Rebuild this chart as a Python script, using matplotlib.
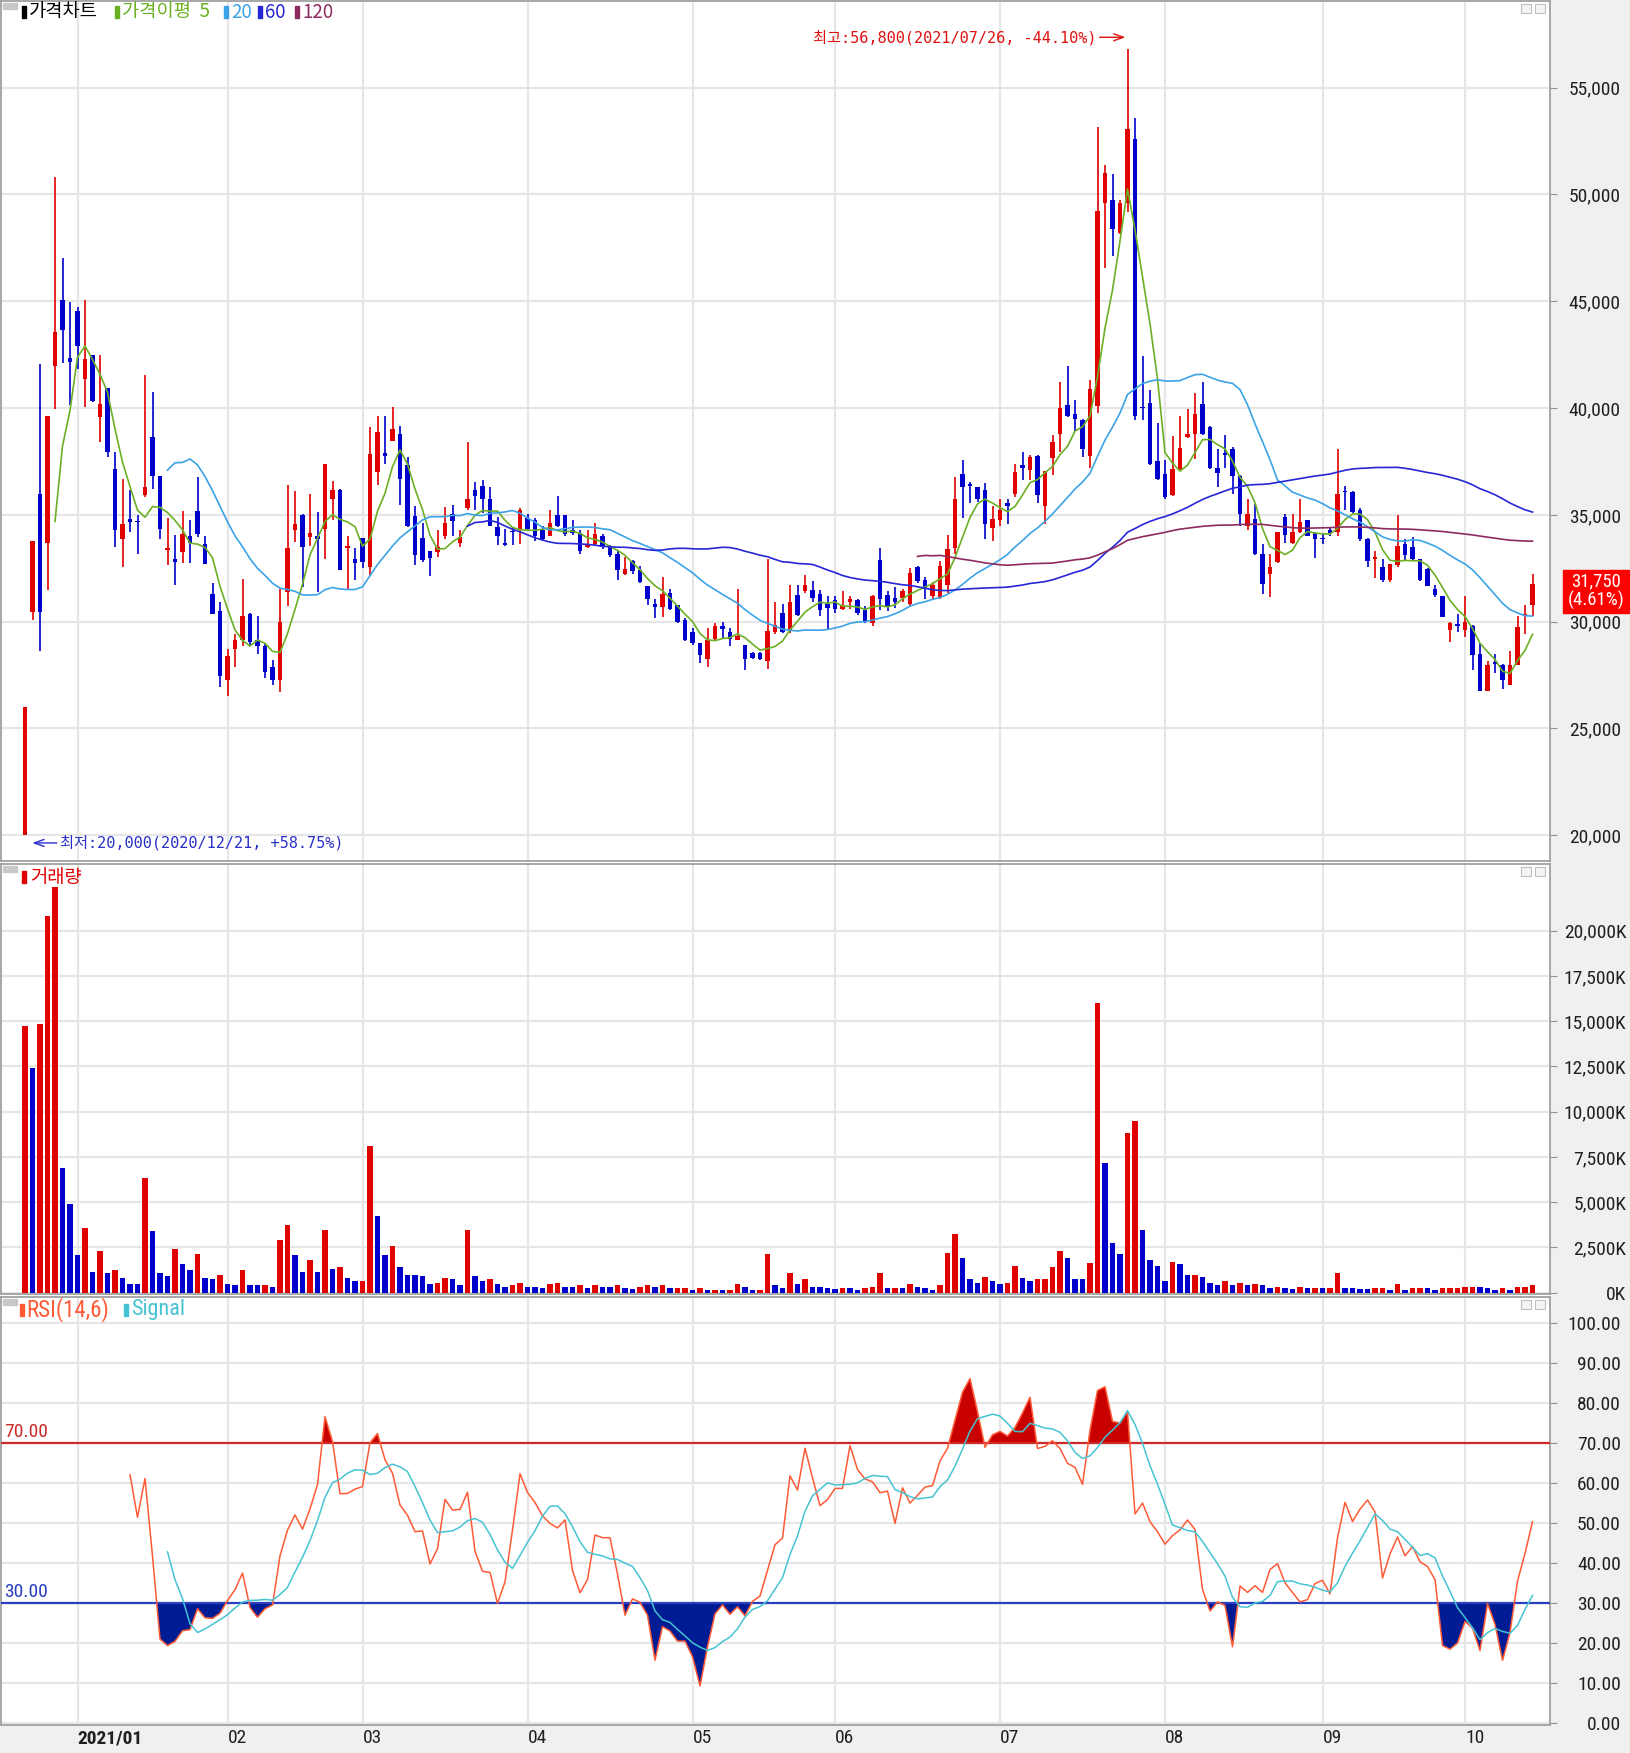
import numpy as np
import pandas as pd
import matplotlib
matplotlib.use("Agg")
import matplotlib.pyplot as plt
from matplotlib import font_manager
from matplotlib.patches import Rectangle

# daily candles, KRW (2020/12/21 .. 2021/10/18)
opens = [
    20000, 30450, 36000, 33700, 41950, 45050, 42350, 44550, 41350, 42500,
    39600, 40950, 37150, 33850, 34800, 34700, 35950, 38650, 36800, 33350,
    32950, 33250, 34000, 35200, 33650, 31300, 30500, 27250, 28700, 29150,
    30350, 29150, 28850, 27900, 27250, 31400, 34300, 35000, 33950, 34000,
    34350, 35750, 36150, 33450, 32950, 33900, 32550, 37000, 37900, 38450,
    38800, 37350, 34950, 33900, 33300, 33250, 34000, 35050, 33700, 35300,
    36150, 36350, 35750, 34450, 33650, 34250, 34300, 34850, 34750, 34300,
    34000, 35000, 35000, 34300, 34150, 33500, 33650, 34000, 33500, 33150,
    32250, 32850, 32400, 31650, 30850, 30700, 31350, 30800, 30100, 29500,
    29000, 28250, 29200, 29800, 29500, 29150, 28900, 28550, 28550, 28150,
    29500, 30400, 29550, 31250, 31450, 31500, 31300, 30850, 31000, 30600,
    30900, 31000, 30550, 29950, 32900, 31250, 31100, 31100, 30850, 32550,
    31950, 31200, 31100, 31700, 33450, 36900, 36450, 36300, 36150, 34400,
    34750, 35550, 36000, 37350, 37100, 37750, 35400, 37650, 38800, 40150,
    39700, 39450, 37750, 40100, 49600, 49750, 48200, 49600, 52600, 40050,
    40250, 37500, 36900, 35950, 37150, 38650, 38800, 40200, 39100, 37200,
    37900, 38100, 36800, 34500, 34800, 33150, 32250, 32800, 34900, 33700,
    34200, 34750, 34150, 33900, 34300, 34200, 36100, 36050, 35250, 33850,
    32950, 32550, 31950, 32650, 33650, 33500, 32950, 32450, 31550, 31200,
    29600, 29900, 29600, 29800, 28500, 26750, 28100, 27950, 27050, 27950,
    30250, 30800]
highs = [
    26000, 33800, 42050, 39650, 50800, 47050, 44950, 44750, 45050, 42500,
    42500, 40950, 37950, 36700, 36150, 35000, 41550, 40750, 36800, 34850,
    34050, 35200, 34750, 36750, 34000, 31800, 30900, 28700, 29400, 32000,
    30400, 30250, 28950, 28200, 31550, 36400, 36100, 35050, 36000, 35150,
    37400, 36600, 36200, 34000, 33450, 33900, 39100, 39650, 39650, 40050,
    39150, 37700, 35400, 34600, 33300, 34300, 35350, 35450, 34300, 38400,
    36550, 36650, 36300, 34900, 34350, 34450, 35300, 35050, 34850, 34500,
    35250, 35900, 35000, 34750, 34300, 34300, 34600, 34100, 33600, 33300,
    33050, 32900, 32600, 31650, 31050, 32100, 31550, 30800, 30150, 29700,
    29000, 29700, 29950, 30000, 29700, 31550, 28900, 28600, 28600, 32950,
    30900, 30850, 31700, 31700, 32200, 31900, 31500, 31200, 31200, 31450,
    31200, 31050, 30750, 31250, 33450, 31450, 31600, 31550, 32500, 32600,
    32100, 31850, 32850, 34050, 36750, 37550, 36550, 36300, 36500, 35400,
    35750, 35750, 37400, 37950, 37800, 37800, 37050, 38750, 41200, 41950,
    40400, 39500, 41300, 53150, 51400, 50950, 49750, 56800, 53600, 42450,
    40850, 39300, 37550, 38700, 39650, 39950, 40700, 41200, 39150, 38100,
    38750, 38200, 36850, 35750, 35500, 33650, 33150, 34200, 35050, 35050,
    35750, 34750, 34200, 34150, 34450, 38100, 36350, 36100, 35300, 33900,
    33300, 32950, 32700, 35000, 33850, 33950, 32950, 32500, 31700, 31200,
    30000, 30350, 31200, 29850, 29000, 28150, 28500, 28000, 28650, 30250,
    30800, 32250]
lows = [
    20000, 30100, 28650, 31500, 39950, 42100, 40150, 41850, 40050, 40300,
    38400, 37700, 33500, 32550, 34200, 33150, 35850, 36200, 33850, 32650,
    31700, 32750, 32750, 33950, 32700, 30350, 26950, 26500, 27900, 28850,
    28850, 28500, 27350, 27050, 26700, 30750, 33750, 31600, 33550, 31400,
    32950, 34750, 32400, 31500, 31950, 32500, 32150, 36400, 37400, 38450,
    35450, 34450, 32650, 32800, 32150, 33050, 33850, 34000, 33500, 35250,
    35250, 35100, 34500, 33600, 33550, 33600, 33650, 34300, 33800, 33800,
    34000, 34450, 34000, 34050, 33150, 33450, 33600, 33400, 33050, 31950,
    32200, 32250, 31800, 30800, 30150, 30200, 30550, 29950, 29100, 28900,
    28050, 27900, 29150, 29250, 28850, 29150, 27750, 28250, 28200, 27800,
    29400, 29450, 29450, 30250, 31350, 30900, 30250, 29600, 30400, 30550,
    30600, 30300, 29950, 29800, 30550, 30500, 30650, 30900, 30750, 31800,
    31050, 31050, 31050, 31350, 33150, 34850, 35550, 35600, 33850, 33800,
    34500, 34550, 35850, 36650, 36650, 35550, 34550, 36850, 37950, 39600,
    38950, 37700, 37200, 39750, 46550, 47100, 48150, 49200, 39450, 39450,
    37350, 36650, 35750, 35900, 37050, 38600, 37600, 38750, 37150, 36300,
    37200, 36000, 34500, 34300, 33100, 31300, 31150, 32750, 33700, 33650,
    34150, 34000, 33000, 33650, 34000, 34000, 35250, 35100, 33800, 32550,
    32050, 31850, 31850, 32550, 32900, 32900, 31900, 31650, 31150, 30200,
    29050, 29500, 29300, 27750, 26750, 26750, 27600, 26850, 27050, 27950,
    29400, 30250]
closes = [
    26000, 33800, 30450, 39650, 43550, 43650, 42150, 42900, 42300, 40350,
    40200, 37950, 34300, 34550, 34650, 34650, 36300, 36800, 34350, 33450,
    32800, 34100, 33700, 34100, 32700, 30350, 27450, 28400, 29150, 30250,
    29050, 28850, 27650, 27250, 30000, 33450, 34550, 33500, 34150, 33850,
    37400, 36150, 32400, 33550, 32750, 32800, 37850, 38900, 37750, 39000,
    36700, 34500, 33100, 32900, 33000, 33500, 34600, 34700, 33950, 35750,
    35900, 35750, 34500, 34000, 33600, 34200, 35250, 34350, 34000, 33850,
    34600, 34500, 34100, 34150, 33300, 33600, 34100, 33500, 33100, 32400,
    32450, 32350, 31850, 31050, 30700, 31300, 30600, 30000, 29150, 29000,
    28450, 29150, 29800, 29650, 29200, 29350, 28250, 28300, 28250, 29550,
    29850, 29500, 30900, 30300, 31700, 31100, 30550, 30650, 30600, 30750,
    31050, 30400, 30050, 31200, 31050, 30750, 30900, 31450, 32300, 31900,
    31550, 31700, 32600, 33400, 35750, 36300, 36350, 35750, 34550, 34800,
    35250, 35400, 37000, 37200, 37700, 35950, 37050, 38400, 40000, 39650,
    39500, 38100, 40900, 49250, 51000, 48400, 49600, 53050, 39650, 40000,
    37400, 36700, 35850, 37150, 38150, 38800, 39700, 38800, 37200, 36950,
    37800, 36800, 35050, 35050, 33150, 31750, 32550, 34200, 34050, 34200,
    34650, 34000, 33850, 33850, 34150, 36000, 36050, 35150, 33850, 32850,
    33050, 31950, 32700, 33550, 33100, 32950, 31950, 31650, 31250, 30200,
    29950, 29800, 30000, 28450, 26750, 27950, 28000, 27250, 27950, 29750,
    30350, 31750]
# volume, thousand shares
volumes = [
    14720, 12410, 14820, 20820, 22390, 6890, 4910, 2080, 3560, 1150,
    2320, 1080, 1250, 820, 480, 470, 6320, 3390, 1080, 910,
    2410, 1580, 1250, 2150, 820, 740, 980, 480, 410, 1250,
    410, 400, 410, 320, 2910, 3720, 2080, 1150, 1820, 1150,
    3480, 1320, 1410, 820, 650, 660, 8080, 4250, 2080, 2580,
    1410, 980, 970, 910, 480, 560, 820, 740, 410, 3480,
    910, 650, 740, 480, 320, 410, 560, 320, 310, 240,
    480, 560, 320, 310, 410, 240, 410, 320, 310, 410,
    240, 230, 320, 410, 320, 410, 240, 250, 260, 150,
    240, 150, 160, 150, 160, 480, 320, 150, 160, 2150,
    410, 240, 1080, 480, 740, 320, 310, 240, 230, 250,
    240, 150, 240, 320, 1080, 240, 250, 240, 480, 320,
    240, 150, 410, 2220, 3220, 1910, 740, 560, 890, 650,
    480, 560, 1480, 820, 650, 740, 750, 1410, 2320, 1910,
    740, 730, 1650, 15980, 7150, 2750, 2150, 8820, 9470, 3480,
    1820, 1480, 650, 1700, 1580, 980, 990, 890, 560, 410,
    650, 410, 560, 410, 480, 400, 240, 320, 240, 230,
    320, 240, 250, 240, 250, 1080, 240, 235, 230, 225,
    240, 245, 150, 480, 150, 240, 250, 240, 150, 240,
    250, 255, 320, 325, 310, 240, 150, 240, 150, 320,
    330, 410]

holidays = ["2020-12-25", "2020-12-31", "2021-01-01", "2021-02-11", "2021-02-12",
            "2021-03-01", "2021-05-05", "2021-05-19", "2021-08-16", "2021-09-20",
            "2021-09-21", "2021-09-22", "2021-10-04", "2021-10-11"]
dates = pd.bdate_range("2020-12-21", "2021-10-18", freq="C", holidays=holidays)

price_ticks = [20000, 25000, 30000, 35000, 40000, 45000, 50000, 55000]
vol_ticks = [0, 2500, 5000, 7500, 10000, 12500, 15000, 17500, 20000]
rsi_ticks = [0, 10, 20, 30, 40, 50, 60, 70, 80, 90, 100]

RED = "#E00000"
BLUE = "#0000CC"
GRID = "#E6E6E6"
EDGE = "#A0A0A0"

# a narrow face for numbers if one is installed, else DejaVu Sans
installed = {f.name for f in font_manager.fontManager.ttflist}
NARROW, LBL = "DejaVu Sans", 11.5
for name in ("Liberation Sans Narrow", "Roboto Condensed", "Open Sans Condensed"):
    if name in installed:
        NARROW, LBL = name, 14
        break
KR = ["Noto Sans CJK KR", "DejaVu Sans"]
MONO_KR = ["DejaVu Sans Mono", "Noto Sans CJK KR"]

o = np.array(opens, float)
h = np.array(highs, float)
l = np.array(lows, float)
c = np.array(closes, float)
v = np.array(volumes, float)
n = len(c)
x = np.arange(n)

s = pd.Series(c)
ma = {k: s.rolling(k).mean() for k in (5, 20, 60, 120)}
d = s.diff()
gain = d.clip(lower=0).rolling(14).sum()
loss = (-d.clip(upper=0)).rolling(14).sum()
rsi = (100 * gain / (gain + loss)).to_numpy()
signal = pd.Series(rsi).rolling(6).mean().to_numpy()

month_pos = [i for i in range(1, n) if dates[i].month != dates[i - 1].month]
month_lbl = [dates[i].strftime("%Y/%m") if dates[i].month == 1 else dates[i].strftime("%m")
             for i in month_pos]

W, H = 1630, 1753
fig = plt.figure(figsize=(W / 100, H / 100), dpi=100)
fig.patches.append(Rectangle((1550 / W, 0), 80 / W, 1, transform=fig.transFigure,
                             color="#F0F0F0", zorder=-5))
fig.patches.append(Rectangle((0, 0), 1, 28 / H, transform=fig.transFigure,
                             color="#F0F0F0", zorder=-5))


def frame(x0, y0, x1, y1):
    return fig.add_axes([x0 / W, 1 - y1 / H, (x1 - x0) / W, (y1 - y0) / H])


def px_rect(x0, y0, w, hh, **kw):
    fig.patches.append(Rectangle((x0 / W, 1 - (y0 + hh) / H), w / W, hh / H,
                                 transform=fig.transFigure, **kw))


def px_text(x0, y0, txt, **kw):
    fig.text(x0 / W, 1 - y0 / H, txt, va="center", **kw)


ax_p = frame(1, 1, 1550, 861)
ax_v = frame(1, 864, 1550, 1294)
ax_r = frame(1, 1297, 1550, 1725)


def style(ax, ticks, labels, ylim, pad):
    ax.set_xlim(-3.2, 203.33)
    ax.set_ylim(*ylim)
    ax.set_xticks(month_pos)
    ax.set_yticks(ticks, labels)
    ax.yaxis.tick_right()
    ax.tick_params(axis="y", length=5, color="#909090", pad=pad, labelsize=LBL)
    ax.tick_params(axis="x", length=0)
    plt.setp(ax.get_yticklabels(), ha="right", family=NARROW, color="#202020")
    ax.grid(True, color=GRID, lw=1.6)
    ax.set_axisbelow(True)
    for sp in ax.spines.values():
        sp.set_color(EDGE)
        sp.set_linewidth(1.3)


style(ax_p, price_ticks, [f"{t:,}" for t in price_ticks], (18795, 59059), 46)
style(ax_v, vol_ticks, [f"{t:,}K" for t in vol_ticks], (-72, 23687), 50)
style(ax_r, rsi_ticks, [f"{t:.2f}" for t in rsi_ticks], (-0.4, 106.6), 46)
ax_p.set_xticklabels([])
ax_v.set_xticklabels([])
ax_r.set_xticklabels(month_lbl)
ax_r.tick_params(axis="x", pad=3, labelsize=LBL)
plt.setp(ax_r.get_xticklabels(), ha="left", family=NARROW, color="#202020")
ax_r.get_xticklabels()[0].set_fontweight("bold")

# candles
up = c >= o
cc = np.where(up, RED, BLUE)
ax_p.vlines(x, l, h, colors=cc, lw=1.2, zorder=2)
ax_p.bar(x, np.maximum(np.abs(c - o), 60), bottom=np.minimum(o, c), width=0.64,
         color=cc, linewidth=0, zorder=3)
ax_p.plot(x, ma[5], color="#6BB024", lw=1.2, zorder=4)
ax_p.plot(x, ma[20], color="#3BA3E6", lw=1.2, zorder=4)
ax_p.plot(x, ma[60], color="#2626D6", lw=1.2, zorder=4)
ax_p.plot(x, ma[120], color="#8E2B5E", lw=1.2, zorder=4)

hi = int(np.argmax(h))
lo = int(np.argmin(l))
lvl = h[hi] + 560
ax_p.annotate("", xy=(hi + 0.1, lvl), xytext=(hi - 4.1, lvl),
              arrowprops=dict(arrowstyle="->,head_length=0.7,head_width=0.25",
                              color="#E01010", lw=1))
ax_p.text(hi - 4.2, lvl, "최고:56,800(2021/07/26, -44.10%)", color="#E01010",
          ha="right", va="center", fontsize=11, family=MONO_KR)
lvl = l[lo] - 360
ax_p.annotate("", xy=(lo + 0.6, lvl), xytext=(lo + 4.6, lvl),
              arrowprops=dict(arrowstyle="->,head_length=0.7,head_width=0.25",
                              color="#2830C8", lw=1))
ax_p.text(lo + 4.7, lvl, "최저:20,000(2020/12/21, +58.75%)", color="#2830C8",
          ha="left", va="center", fontsize=11, family=MONO_KR)

# last price tag
tag_y = 87.7 + (55000 - c[-1]) / 46.82
px_rect(1563, tag_y - 14, 66, 43, color="#FF0000", zorder=5)
chg = (c[-1] / c[-2] - 1) * 100
px_text(1596, tag_y - 3, f"{int(c[-1]):,}", color="white", ha="center",
        fontsize=LBL - 0.5, family=NARROW, zorder=6)
px_text(1596, tag_y + 16, f"({chg:.2f}%)", color="white", ha="center",
        fontsize=LBL - 0.5, family=NARROW, zorder=6)

# volume
vup = np.concatenate([[True], v[1:] >= v[:-1]])
ax_v.bar(x, v, width=0.7, color=np.where(vup, RED, BLUE), linewidth=0, zorder=3)

# RSI
ax_r.fill_between(x, rsi, 70, where=rsi >= 70, interpolate=True, color="#C80000",
                  linewidth=0, zorder=2)
ax_r.fill_between(x, rsi, 30, where=rsi <= 30, interpolate=True, color="#001C94",
                  linewidth=0, zorder=2)
ax_r.axhline(70, color="#CC2A2A", lw=1.6, zorder=3)
ax_r.axhline(30, color="#2A3EC0", lw=1.6, zorder=3)
ax_r.plot(x, rsi, color="#FF5A36", lw=1.1, zorder=4)
ax_r.plot(x, signal, color="#46C3D2", lw=1.1, zorder=4)
ax_r.text(0.002, 70.5, "70.00", transform=ax_r.get_yaxis_transform(), color="#CC2A2A",
          fontsize=LBL, family=NARROW, va="bottom")
ax_r.text(0.002, 30.5, "30.00", transform=ax_r.get_yaxis_transform(), color="#2A3EC0",
          fontsize=LBL, family=NARROW, va="bottom")

# panel legends
px_rect(22, 6, 4, 12, color="black", zorder=5)
px_text(29, 12, "가격차트", color="black", fontsize=13.5, family=KR)
px_rect(115, 6, 4, 12, color="#6BB024", zorder=5)
px_text(122, 12, "가격이평  5", color="#6BB024", fontsize=13.5, family=KR)
px_rect(224, 6, 4, 12, color="#3BA3E6", zorder=5)
px_text(231, 12, "20", color="#3BA3E6", fontsize=13.5, family=KR)
px_rect(258, 6, 4, 12, color="#2626D6", zorder=5)
px_text(265, 12, "60", color="#2626D6", fontsize=13.5, family=KR)
px_rect(295, 6, 4, 12, color="#8E2B5E", zorder=5)
px_text(302, 12, "120", color="#8E2B5E", fontsize=13.5, family=KR)

px_rect(22, 871, 4, 12, color=RED, zorder=5)
px_text(30, 877, "거래량", color=RED, fontsize=13.5, family=KR)

px_rect(20, 1304, 4, 12, color="#FF5A36", zorder=5)
px_text(26, 1310, "RSI(14,6)", color="#FF5A36", fontsize=LBL + 2.5, family=NARROW)
px_rect(124, 1304, 4, 12, color="#46C3D2", zorder=5)
px_text(131, 1310, "Signal", color="#46C3D2", fontsize=LBL + 2, family=NARROW)

# window icons
for top in (3, 866, 1299):
    px_rect(3, top, 14, 6, color="#C8C8C8", zorder=5)
    px_rect(1521, top + 1, 10, 9, facecolor="#F4F4F4", edgecolor="#C0C0C0", lw=0.8, zorder=5)
    px_rect(1535, top + 1, 10, 9, facecolor="#F4F4F4", edgecolor="#C0C0C0", lw=0.8, zorder=5)

fig.savefig("out.png", dpi=100)
